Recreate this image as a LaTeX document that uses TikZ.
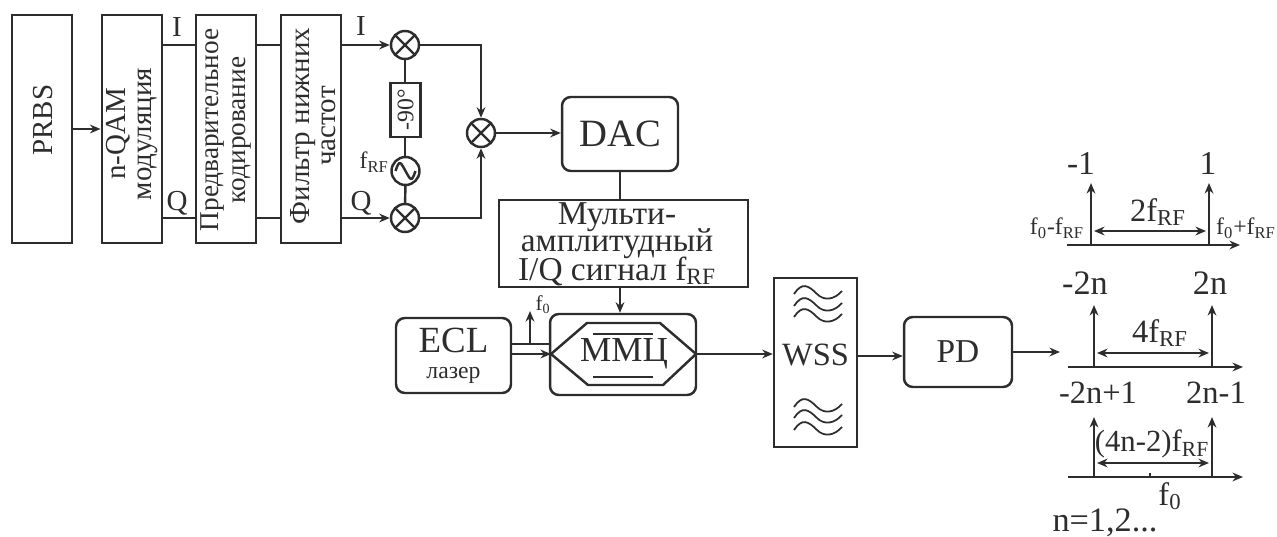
\documentclass[tikz,border=0pt]{standalone}
\usepackage{fontspec}
\setmainfont{Liberation Serif}
\definecolor{ink}{RGB}{45,45,45}
\usetikzlibrary{
  arrows.meta,
  calc
}
\newcommand{\fRF}{f\textsubscript{RF}}
\newcommand{\fnull}{f\textsubscript{0}}

\begin{document}
\begin{tikzpicture}[
    x=0.02cm, y=-0.02cm,
    line width=1.4pt, draw=ink, text=ink,
    >={Stealth[length=6pt,width=5pt]},
    block/.style={
      rectangle, draw, inner sep=0pt
    },
    rblock/.style={
      block, rounded corners=5pt, font=\fontsize{20}{22}\selectfont
    },
    tallbox/.style={
      block, minimum width=1.21cm, minimum height=4.56cm
    },
    vtxt/.style={
      rotate=90, align=center, inner sep=0pt,
      font=\fontsize{16.5}{15}\selectfont
    },
    mixer/.style={
      circle, draw, minimum size=0.56cm, inner sep=0pt,
      path picture={
        \draw (path picture bounding box.north west) -- (path picture bounding box.south east);
        \draw (path picture bounding box.north east) -- (path picture bounding box.south west);
      }
    },
    osc/.style={
      circle, draw, minimum size=0.56cm, inner sep=0pt,
      path picture={
        \draw ($(path picture bounding box.center)+(-10,0)$)
          .. controls +(4,-12) and +(-5,-9) .. (path picture bounding box.center)
          .. controls +(5,9) and +(-4,12) .. +(10,0);
      }
    },
    lbl/.style={
      inner sep=0pt, font=\fontsize{16.5}{18}\selectfont
    },
    smalllbl/.style={
      inner sep=0pt, font=\fontsize{13.5}{15}\selectfont
    },
    speclbl/.style={
      inner sep=0pt, font=\fontsize{18.5}{20}\selectfont
    }
  ]
  \useasboundingbox (0,0) rectangle (1277,537);

  %% Signal rails
  \coordinate (railI) at (0,45);
  \coordinate (railQ) at (0,218);

  %% Transmitter blocks
  \node[tallbox] (prbs) at (42,129)  {};
  \node[tallbox] (qam)  at (132,129) {};
  \node[tallbox] (pre)  at (226,129) {};
  \node[tallbox] (flt)  at (311,129) {};
  \node[vtxt] (prbstxt) at (43,120)    {PRBS};
  \node[vtxt] (qamtxt)  at (132,134)   {n-QAM\\модуляция};
  \node[vtxt, font=\fontsize{15.5}{15}\selectfont] (pretxt) at (226,130)
    {Предварительное\\кодирование};
  \node[vtxt] (flttxt)  at (313,126)   {Фильтр нижних\\частот};

  %% IQ mixers
  \node[mixer] (mixI) at (405,45)  {};
  \node[mixer] (mixQ) at (405,218) {};
  \node[mixer] (mixO) at (481,133) {};
  \node[block, minimum width=0.6cm, minimum height=1.08cm] (shift) at (405.5,110) {};
  \node[rotate=90, inner sep=0pt, font=\fontsize{13.5}{14}\selectfont] (shifttxt) at (shift) {-90\textdegree};
  \node[osc] (lo) at (405.5,171) {};
  \node[smalllbl, anchor=east] (lotxt) at (390,162) {\fRF};

  %% Rail connectors
  \draw[->] (prbs) -- (qam);
  \draw (qam.east |- railI) -- (pre.west |- railI);
  \draw (qam.east |- railQ) -- (pre.west |- railQ);
  \draw (pre.east |- railI) -- (flt.west |- railI);
  \draw (pre.east |- railQ) -- (flt.west |- railQ);
  \draw[->] (flt.east |- mixI) -- (mixI);
  \draw[->] (flt.east |- mixQ) -- (mixQ);
  \draw (mixI) -- (mixI |- shift.north);
  \draw (mixI |- shift.south) -- (mixI |- lo.north);
  \draw (lo) -- (mixQ);
  \draw[->] (mixI) -| (mixO);
  \draw[->] (mixQ) -| (mixO);

  \node[lbl] at (177,27)  {I};
  \node[lbl] at (177,203) {Q};
  \node[lbl] at (361,26)  {I};
  \node[lbl] at (361,203) {Q};

  %% DAC and driver
  \node[rblock, minimum width=2.32cm, minimum height=1.48cm,
        font=\fontsize{22}{24}\selectfont] (dac) at (620,134) {DAC};
  \node[block, minimum width=4.98cm, minimum height=1.74cm] (drv) at (623.5,243.5) {};
  \node[align=center, inner sep=0pt, font=\fontsize{19}{15}\selectfont] (drvtxt) at (617,244)
    {Мульти-\\[-2.4pt]амплитудный\\[-2.4pt]I/Q сигнал \fRF};
  \draw[->] (mixO) -- (dac.west |- mixO);
  \draw (dac.south) -- (dac.south |- drv.north);

  %% Laser and modulator
  \node[block, rounded corners=5pt, minimum width=2.3cm, minimum height=1.5cm,
        align=center, font=\fontsize{21}{20}\selectfont] (ecl) at (453.5,355.5)
    {ECL\\[-5pt]{\fontsize{13.5}{15}\selectfont лазер}};
  \node[block, rounded corners=5pt, minimum width=2.92cm, minimum height=1.62cm] (mzm) at (623,354.5) {};
  \node[inner sep=0pt, font=\fontsize{20}{22}\selectfont] (mzmtxt) at (624,354) {ММЦ};
  \draw[->] (dac.south |- drv.south) -- (dac.south |- mzm.north);
  \coordinate (hexL) at (551,354);
  \coordinate (hexR) at (696,354);
  \draw (hexL) -- (587,323) -- (660,323) -- (hexR) -- (663,385) -- (588,385) -- cycle;
  \draw (593,334) -- (653,334);
  \draw (593,377) -- (653,377);
  \draw[->] (ecl.east |- hexL) -- (hexL);
  \coordinate (tap) at (530,344);
  \coordinate (tapend) at (530,311);
  \draw (ecl.east |- tap) -- (mzm.west |- tap);
  \draw[->] (tap) -- (tapend);
  \node[inner sep=0pt, font=\fontsize{12}{14}\selectfont] at (543,305) {\fnull};

  %% WSS and photodiode
  \node[block, minimum width=1.66cm, minimum height=3.38cm,
        font=\fontsize{18.5}{20}\selectfont] (wss) at (815.5,362.5) {};
  \node[inner sep=0pt, font=\fontsize{18.5}{20}\selectfont] (wsstxt) at (815.5,355) {WSS};
  \draw[->] (hexR) -- (wss.west |- hexR);
  \foreach \wy in {294,306,317,407,418,430} {
    \draw[line width=1pt] (794,\wy) .. controls (802,\wy-12) and (808,\wy-9) .. (817,\wy)
      .. controls (824,\wy+7) and (834,\wy+6) .. (842,\wy-3);
  }
  \node[rblock, minimum width=2.16cm, minimum height=1.4cm,
        font=\fontsize{19}{21}\selectfont] (pd) at (958,352) {PD};
  \coordinate (pdin) at (0,356);
  \draw[->] (wss.east |- pdin) -- (pd.west |- pdin);
  \coordinate (pdout) at (1060,352);
  \draw[->] (pd) -- (pdout);

  %% Spectra
  \foreach \ax/\axl/\axr/\sl/\sr/\yb/\yt/\ya in {
      1/1067/1240/1091/1209/245/183/231,
      2/1068/1243/1094/1212/367/305/353,
      3/1068/1243/1094/1212/477/417/463} {
    \draw[->] (\axl,\yb) -- (\axr,\yb);
    \draw[->] (\sl,\yb) -- (\sl,\yt);
    \draw[->] (\sr,\yb) -- (\sr,\yt);
    \draw[<->, line width=1pt] (\sl+3,\ya) -- (\sr-3,\ya);
  }
  \draw (1150,473) -- (1150,477);

  \node[speclbl, font=\fontsize{19}{20}\selectfont] at (1081,163) {-1};
  \node[speclbl, font=\fontsize{19}{20}\selectfont] at (1208,163) {1};
  \node[speclbl] at (1158,212) {2\fRF};
  \node[smalllbl] at (1057,228) {\fnull-\fRF};
  \node[smalllbl] at (1246,228) {\fnull+\fRF};
  \node[speclbl, font=\fontsize{19.5}{20}\selectfont] at (1085,283) {-2n};
  \node[speclbl, font=\fontsize{19.5}{20}\selectfont] at (1210,283) {2n};
  \node[speclbl] at (1160,333) {4\fRF};
  \node[speclbl] at (1098,393) {-2n+1};
  \node[speclbl] at (1216,393) {2n-1};
  \node[speclbl, font=\fontsize{17.5}{20}\selectfont] at (1152,444) {(4n-2)\fRF};
  \node[speclbl] at (1170,496) {\fnull};
  \node[speclbl, font=\fontsize{19.5}{20}\selectfont] at (1105,523) {n=1,2...};

\end{tikzpicture}
\end{document}
